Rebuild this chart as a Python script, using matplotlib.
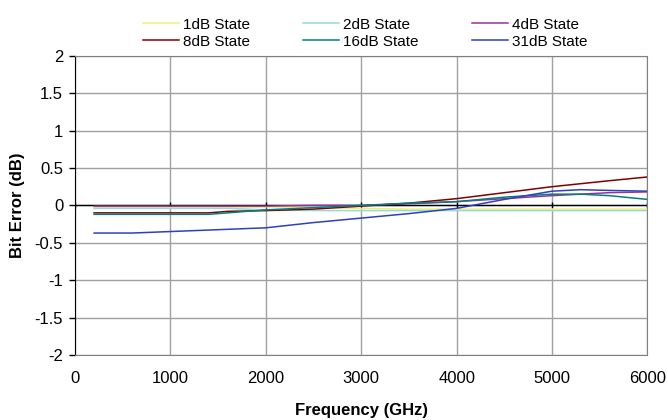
import matplotlib
matplotlib.use("Agg")
import matplotlib.pyplot as plt

# ── Data ──────────────────────────────────────────────────────────────────────
freq = [200, 600, 1000, 1400, 1600, 1800, 2000, 2500, 3000, 3500, 4000,
        4500, 5000, 5300, 5600, 6000]

err_1db  = [-0.03, -0.03, -0.03, -0.03, -0.03, -0.03, -0.02, -0.03, -0.04,
            -0.05, -0.05, -0.05, -0.05, -0.05, -0.05, -0.05]
err_2db  = [-0.04, -0.04, -0.04, -0.04, -0.04, -0.05, -0.06, -0.07, -0.07,
            -0.07, -0.07, -0.07, -0.07, -0.07, -0.07, -0.07]
err_4db  = [-0.01, -0.01, -0.01, -0.01, -0.01, -0.01, -0.01, 0.00, 0.00,
            0.02, 0.05, 0.09, 0.13, 0.15, 0.17, 0.18]
err_8db  = [-0.10, -0.10, -0.10, -0.10, -0.08, -0.075, -0.07, -0.05, -0.01,
            0.03, 0.09, 0.17, 0.25, 0.29, 0.33, 0.38]
err_16db = [-0.12, -0.12, -0.12, -0.12, -0.10, -0.08, -0.06, -0.03, 0.00,
            0.03, 0.05, 0.11, 0.15, 0.15, 0.13, 0.08]
err_31db = [-0.37, -0.37, -0.35, -0.33, -0.32, -0.31, -0.30, -0.23, -0.17,
            -0.11, -0.04, 0.08, 0.19, 0.21, 0.20, 0.19]

labels = ["1dB State", "2dB State", "4dB State",
          "8dB State", "16dB State", "31dB State"]
colors = ["#F0F070", "#99D8D8", "#993399", "#800000", "#008080", "#2E3FBF"]

xticks = [0, 1000, 2000, 3000, 4000, 5000, 6000]
yticks = [-2, -1.5, -1, -0.5, 0, 0.5, 1, 1.5, 2]
ytick_labels = ["-2", "-1.5", "-1", "-0.5", "0", "0.5", "1", "1.5", "2"]

plt.rcParams["font.family"] = ["Liberation Sans", "DejaVu Sans"]
plt.rcParams["font.size"] = 12

fig = plt.figure(figsize=(6.68, 4.20), dpi=100)
ax = fig.add_axes([0.1123, 0.155, 0.857, 0.712])

series = [err_1db, err_2db, err_4db, err_8db, err_16db, err_31db]
handles = []
for vals, lab, col in zip(series, labels, colors):
    h, = ax.plot(freq, vals, color=col, lw=1.1, label=lab, zorder=3)
    handles.append(h)

ax.set_xlim(0, 6000); ax.set_ylim(-2, 2)
ax.set_xticks(xticks)
ax.set_yticks(yticks); ax.set_yticklabels(ytick_labels)
ax.grid(True, color="#a0a0a0", lw=1.0, zorder=0)
ax.set_axisbelow(True)

# x axis crosses at zero, labels stay at the bottom (Excel style)
ax.axhline(0, color="black", lw=1.0, zorder=2)
ax.plot(xticks, [0] * len(xticks), ls="none", marker="|", ms=4,
        mew=1.0, color="black", zorder=2)

for side in ("top", "right", "bottom"):
    ax.spines[side].set_color("#808080")
ax.spines["left"].set_color("black")
ax.tick_params(axis="x", length=0, pad=11.5)
ax.tick_params(axis="y", length=4, width=1, direction="out", pad=4.5)

ax.set_xlabel("Frequency (GHz)", fontweight="bold")
ax.set_ylabel("Bit Error (dB)", fontweight="bold")
ax.xaxis.set_label_coords(0.5, -0.162)
ax.yaxis.set_label_coords(-0.088, 0.5)

# row-major legend order for a 3-column layout
order = [0, 3, 1, 4, 2, 5]
ax.legend([handles[i] for i in order], [labels[i] for i in order],
          ncol=3, frameon=False, loc="lower center", fontsize=11,
          bbox_to_anchor=(0.507, 1.0), handlelength=2.35, handletextpad=0.25,
          columnspacing=3.5, labelspacing=0.2, borderaxespad=0.07)

plt.savefig("out.png", dpi=100)
plt.close()
